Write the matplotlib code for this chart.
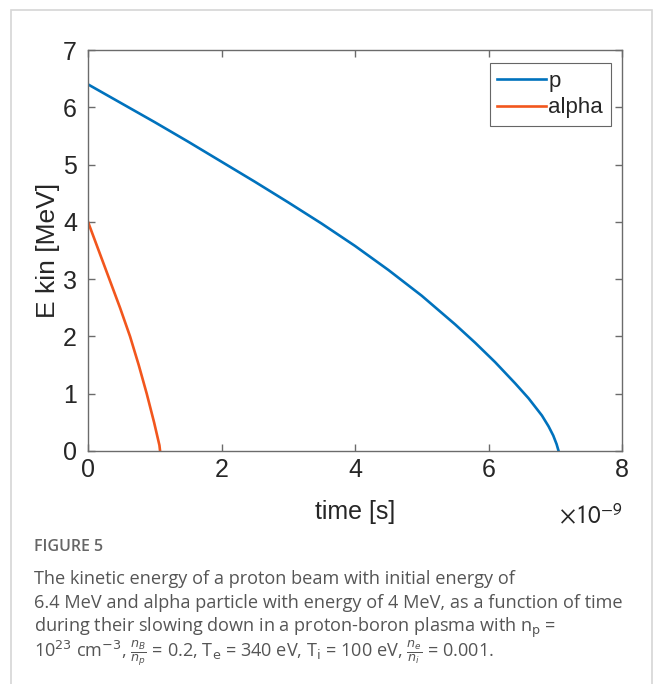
import matplotlib as mat
mat.use('Agg')
import matplotlib.pyplot as plt
from matplotlib.patches import Rectangle

# values (time in units of 1e-9 s, energy in MeV)
p_time = [0, 0.5, 1.0, 1.5, 2.0, 2.5, 3.0, 3.5, 4.0, 4.5, 5.0, 5.5, 5.8, 6.1, 6.4,
          6.6, 6.8, 6.9, 6.97, 7.02, 7.05]
p_energy = [6.40, 6.07, 5.74, 5.40, 5.05, 4.70, 4.34, 3.97, 3.58, 3.16, 2.71, 2.21, 1.89, 1.55, 1.18,
            0.92, 0.62, 0.43, 0.27, 0.12, 0.0]

alpha_time = [0, 0.16, 0.32, 0.48, 0.63, 0.76, 0.88, 0.99, 1.04, 1.07, 1.08]
alpha_energy = [4.0, 3.5, 3.0, 2.5, 2.0, 1.5, 1.0, 0.5, 0.25, 0.1, 0.0]

x_ticks = [0, 2, 4, 6, 8]
y_ticks = [0, 1, 2, 3, 4, 5, 6, 7]

W, H = 654, 684
fig = plt.figure(figsize=(W / 100, H / 100), dpi=100)

# light frame round the whole panel
fig.add_artist(Rectangle((11 / W, -0.01), 641 / W, 1.01 - 10 / H, transform=fig.transFigure,
                         fill=False, edgecolor='#d6d6d6', linewidth=1.2))

ax = fig.add_axes([88 / W, 1 - 451 / H, (622 - 88) / W, (451 - 50) / H])
ax.plot(p_time, p_energy, color='#0072BD', linewidth=1.9, label='p', solid_joinstyle='round')
ax.plot(alpha_time, alpha_energy, color='#F2561D', linewidth=1.9, label='alpha', solid_joinstyle='round')

ax.set_xlim(0, 8)
ax.set_ylim(0, 7)
ax.set_xticks(x_ticks)
ax.set_yticks(y_ticks)
ax.set_xticklabels([str(v) for v in x_ticks])
ax.set_yticklabels([str(v) for v in y_ticks])

axcol = '#6b6b6b'
for s in ax.spines.values():
    s.set_color(axcol)
    s.set_linewidth(1.0)
ax.tick_params(direction='in', length=5, width=1.0, color=axcol, labelcolor='#262626',
               labelsize=18, top=True, right=True)
ax.tick_params(axis='x', pad=5)
ax.tick_params(axis='y', pad=8)
for lab in ax.get_xticklabels() + ax.get_yticklabels():
    lab.set_family('Liberation Sans')

ax.set_xlabel('time [s]', fontsize=18, family='Liberation Sans', color='#262626', labelpad=13)
ax.set_ylabel('E kin [MeV]', fontsize=19, family='Liberation Sans', color='#262626', labelpad=2)

fig.text(622 / W, 1 - 524 / H, r'$\times10^{-9}$', ha='right', va='baseline', fontsize=18,
         color='#262626', family='Liberation Sans', math_fontfamily='stixsans')

leg = ax.legend(loc='upper right', bbox_to_anchor=(1 - 11 / 534, 1 - 13 / 401),
                prop={'family': 'Liberation Sans', 'size': 16}, frameon=True, fancybox=False,
                handlelength=2.2, handletextpad=0.1, borderpad=0.35, labelspacing=0.25,
                borderaxespad=0)
leg.get_frame().set_edgecolor('#404040')
leg.get_frame().set_linewidth(0.8)
for t in leg.get_texts():
    t.set_color('#262626')

# caption
cap = '#555555'
fig.text(34 / W, 1 - 551 / H, 'FIGURE 5', fontsize=11.5, color='#666666', family='Open Sans',
         weight='semibold', va='baseline')
lines = [
    'The kinetic energy of a proton beam with initial energy of',
    '6.4 MeV and alpha particle with energy of 4 MeV, as a function of time',
    r'during their slowing down in a proton-boron plasma with n$_\mathrm{p}$ =',
    r'10$^{23}$ cm$^{-3}$, $\frac{n_B}{n_p}$ = 0.2, T$_\mathrm{e}$ = 340 eV, T$_\mathrm{i}$ = 100 eV, $\frac{n_e}{n_i}$ = 0.001.',
]
ys = [584, 608, 632, 657]
for txt, yy in zip(lines, ys):
    fig.text(34 / W, 1 - yy / H, txt, fontsize=13.1, color=cap, family='Open Sans', va='baseline',
             math_fontfamily='dejavusans')

fig.savefig('out.png', dpi=100)
